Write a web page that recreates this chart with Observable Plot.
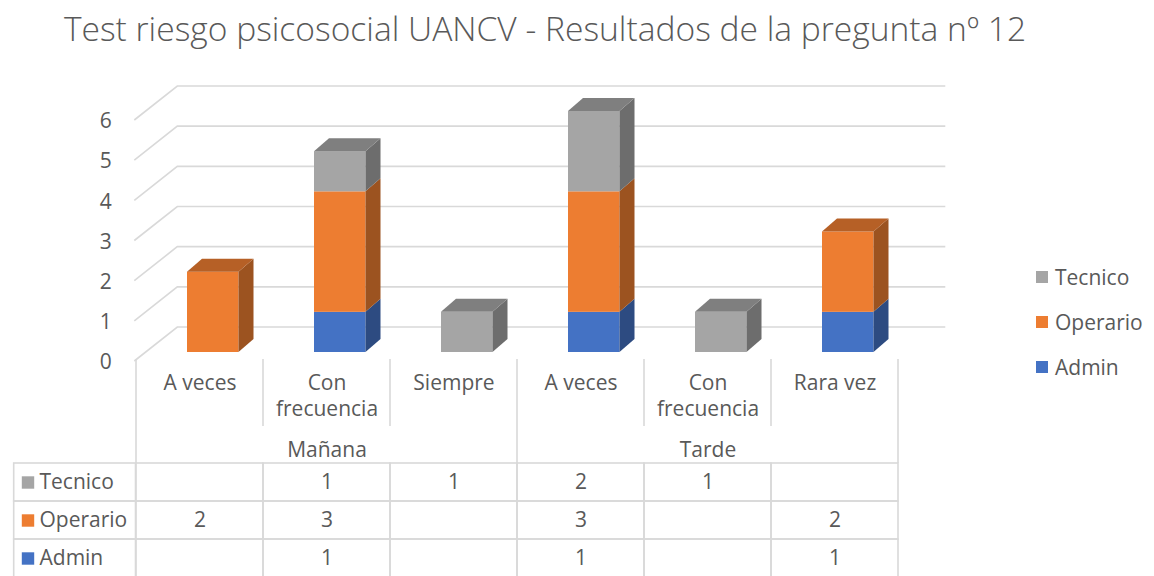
<!DOCTYPE html>
<html>
<head>
<meta charset="utf-8">
<script src="https://cdn.jsdelivr.net/npm/d3@7"></script>
<script src="https://cdn.jsdelivr.net/npm/@observablehq/plot@0.6"></script>
<style>
  html, body { margin: 0; padding: 0; background: #fff; overflow: hidden; }
  #root { position: relative; width: 1154px; height: 576px; font-family: "Open Sans", sans-serif; color: #595959; }
  #title { position: absolute; left: 0; top: 5px; width: 1090px; text-align: center; font-size: 33.6px; font-weight: 300; line-height: 46px; white-space: nowrap; color: #595959; }
  #chartA, #chartB { position: absolute; left: 0; }
  #chartA { top: 0; }
  #chartB { top: 463px; }
  svg { overflow: visible; }
  .legend-item { position: absolute; left: 1036px; height: 30px; display: flex; align-items: center; font-size: 21px; color: #595959; }
  .legend-item span.sw { display: inline-block; width: 12px; height: 12px; margin-right: 7px; }
</style>
</head>
<body>
<div id="root">
  <div id="title"></div>
  <div id="chartA"></div>
  <div id="chartB"></div>
</div>
<script>
// ---- data ----
const title = "Test riesgo psicosocial UANCV - Resultados de la pregunta nº 12";
const groups  = ["Mañana", "Mañana", "Mañana", "Tarde", "Tarde", "Tarde"];
const answers = ["A veces", "Con frecuencia", "Siempre", "A veces", "Con frecuencia", "Rara vez"];
const series  = ["Tecnico", "Operario", "Admin"];
const tecnico  = [null, 1, 1, 2, 1, null];
const operario = [2, 3, null, 3, null, 2];
const admin    = [null, 1, null, 1, null, 1];
const seriesColors = ["#A5A5A5", "#ED7D31", "#4472C4"];
const yTicks = [0, 1, 2, 3, 4, 5, 6];

// ---- derived tables ----
const valuesBy = {Tecnico: tecnico, Operario: operario, Admin: admin};
const stackOrder = ["Admin", "Operario", "Tecnico"];
const keys = groups.map((g, i) => g + "|" + answers[i]);
const labelOf = k => { const a = k.split("|")[1]; return a.length > 10 ? a.replace(" ", "\n") : a; };
const segs = [];
keys.forEach((k, i) => {
  let base = 0, last = null;
  for (const s of stackOrder) {
    const v = valuesBy[s][i];
    if (v) { last = {key: k, series: s, value: v, y1: base, y2: base + v, top: false}; segs.push(last); base += v; }
  }
  if (last) last.top = true;
});
const cells = [];
for (const s of series) keys.forEach((k, i) => cells.push({key: k, series: s, value: valuesBy[s][i]}));
const groupNames = [...new Set(groups)];
const groupMid = groupNames.map(g => { const ks = keys.filter((k, i) => groups[i] === g); return {name: g, key: ks[Math.floor(ks.length / 2)]}; });

// ---- layout / style constants ----
const W = 1154;
const mL = 134.3, mR = W - 899.3;
const FONT = 21;
const INS_L = 51, INS_R = 24.5;     // bar front-face insets in the band
const DX = 15, DY = 13;             // bar depth
const GRID = "#d9d9d9";
const TXT = "#595959";

document.getElementById("title").textContent = title;

const colorScale = {domain: series, range: seriesColors};

// functional mark: 3D walls + gridlines
function walls(index, scales, values, dims) {
  const g = d3.create("svg:g").attr("fill", "none").attr("stroke", GRID).attr("stroke-width", 1.6);
  const x0 = dims.marginLeft, xb = x0 + 43, xr = dims.width - dims.marginRight + 46;
  for (const v of yTicks) {
    const y = scales.y(v);
    g.append("path").attr("d", `M${x0},${y + 9}L${xb},${y - 25}L${xr},${y - 25}`);
  }
  return g.node();
}
// functional mark: side and top faces of bars
function faces(index, scales) {
  const g = d3.create("svg:g");
  const bw = scales.x.bandwidth();
  for (const d of segs) {
    const xa = scales.x(d.key) + INS_L, xb = scales.x(d.key) + bw - INS_R;
    const yt = scales.y(d.y2), yb = scales.y(d.y1);
    const c = d3.rgb(scales.color(d.series));
    const side = d3.rgb(c.r * 0.66, c.g * 0.66, c.b * 0.66);
    const topc = d3.rgb(c.r * 0.77, c.g * 0.77, c.b * 0.77);
    g.append("path").attr("d", `M${xb},${yb}L${xb},${yt}L${xb + DX},${yt - DY}L${xb + DX},${yb - DY}Z`).attr("fill", side);
    if (d.top) g.append("path").attr("d", `M${xa},${yt}L${xb},${yt}L${xb + DX},${yt - DY}L${xa + DX},${yt - DY}Z`).attr("fill", topc);
  }
  return g.node();
}
// functional mark: header separators under the chart
function headerLines(index, scales, values, dims) {
  const g = d3.create("svg:g").attr("stroke", GRID).attr("stroke-width", 1.6);
  const bw = scales.x.bandwidth();
  const y0 = scales.y(0) + 7, yEnd = dims.height, yInner = scales.y(0) + 74;
  keys.forEach((k, i) => {
    const x = scales.x(k);
    const outer = i === 0 || groups[i] !== groups[i - 1];
    g.append("line").attr("x1", x).attr("x2", x).attr("y1", y0).attr("y2", outer ? yEnd : yInner);
  });
  const xe = scales.x(keys[keys.length - 1]) + bw;
  g.append("line").attr("x1", xe).attr("x2", xe).attr("y1", y0).attr("y2", yEnd);
  return g.node();
}

const chartA = Plot.plot({
  width: W, height: 463,
  marginLeft: mL, marginRight: mR, marginTop: 111, marginBottom: 111,
  style: {fontFamily: '"Open Sans", sans-serif', fontSize: FONT + "px", color: TXT, background: "transparent", overflow: "visible"},
  x: {domain: keys, padding: 0, axis: null},
  y: {domain: [0, 6], ticks: yTicks, axis: null},
  color: colorScale,
  marks: [
    walls,
    Plot.axisY(yTicks, {anchor: "left", tickSize: 0, tickPadding: 23, dy: 10, fontSize: FONT, fill: TXT, label: null}),
    Plot.rectY(segs, {x: "key", y1: "y1", y2: "y2", fill: "series", insetLeft: INS_L, insetRight: INS_R}),
    faces,
    headerLines,
    Plot.text(keys, {x: d => d, frameAnchor: "bottom", text: labelOf, lineAnchor: "top", dy: 18, lineHeight: 1.28, fontSize: FONT, fill: TXT}),
    Plot.text(groupMid, {x: "key", frameAnchor: "bottom", text: "name", dy: 104, fontSize: FONT, fill: TXT})
  ]
});
document.getElementById("chartA").appendChild(chartA);

const chartB = Plot.plot({
  width: W, height: 114,
  marginLeft: mL, marginRight: mR, marginTop: 0, marginBottom: 0,
  style: {fontFamily: '"Open Sans", sans-serif', fontSize: FONT + "px", color: TXT, background: "transparent", overflow: "visible"},
  x: {domain: keys, padding: 0, axis: null},
  y: {domain: series, padding: 0, axis: null},
  color: colorScale,
  marks: [
    Plot.cell(cells, {x: "key", y: "series", fill: "none", stroke: GRID, strokeWidth: 1.6}),
    Plot.cell(series, {x: () => keys[0], y: d => d, fill: "none", stroke: GRID, strokeWidth: 1.6, insetLeft: -(mL - 12), insetRight: 127.5}),
    Plot.text(cells.filter(d => d.value != null), {x: "key", y: "series", text: d => String(d.value), fontSize: FONT, fill: TXT}),
    Plot.dot(series, {y: d => d, frameAnchor: "left", dx: 27.5 - mL, symbol: "square", r: 7, fill: d => d, stroke: null}),
    Plot.text(series, {y: d => d, frameAnchor: "left", dx: 39 - mL, text: d => d, textAnchor: "start", fontSize: FONT, fill: TXT})
  ]
});
document.getElementById("chartB").appendChild(chartB);

// legend (from the series arrays / color scale)
const root = document.getElementById("root");
const legendTop = [262, 307, 352];
series.forEach((s, i) => {
  const it = document.createElement("div");
  it.className = "legend-item";
  it.style.top = legendTop[i] + "px";
  const sw = document.createElement("span");
  sw.className = "sw";
  sw.style.background = chartA.scale("color").apply(s);
  it.appendChild(sw);
  it.appendChild(document.createTextNode(s));
  root.appendChild(it);
});
</script>
</body>
</html>
